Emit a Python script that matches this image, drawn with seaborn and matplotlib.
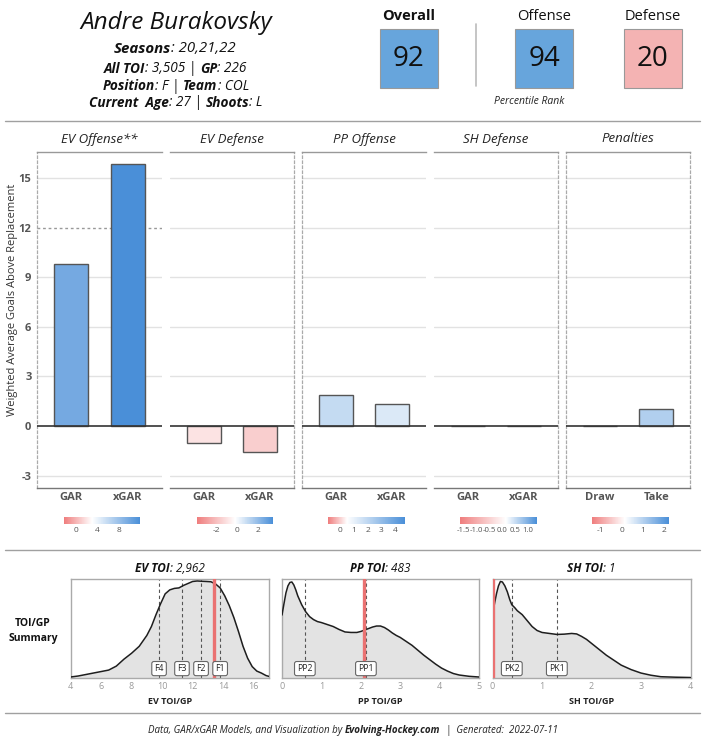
import matplotlib
matplotlib.use("Agg")
import matplotlib.pyplot as plt
from matplotlib.colors import LinearSegmentedColormap, Normalize
from matplotlib.colorbar import ColorbarBase
import seaborn as sns
import numpy as np

# ---------------- data ----------------
player = "Andre Burakovsky"
seasons = "20,21,22"
all_toi = "3,505"
gp = "226"
position = "F"
team = "COL"
age = "27"
shoots = "L"
pct_labels = ["Overall", "Offense", "Defense"]
pct_values = [92, 94, 20]

panel_titles = ["EV Offense**", "EV Defense", "PP Offense", "SH Defense", "Penalties"]
panel_cats = [["GAR", "xGAR"], ["GAR", "xGAR"], ["GAR", "xGAR"], ["GAR", "xGAR"], ["Draw", "Take"]]
panel_vals = [[9.8, 15.85], [-1.0, -1.6], [1.86, 1.33], [0.0, 0.0], [0.0, 1.05]]
# colour scale per panel: (min, white point, max) and tick values
scale_min = [-2.2, -3.9, -0.87, -1.62, -1.41]
scale_mid = [3.0, -0.2, 0.5, 0.15, 0.15]
scale_max = [11.9, 3.45, 4.7, 1.35, 2.24]
scale_ticks = [[0, 4, 8], [-2, 0, 2], [0, 1, 2, 3, 4],
               [-1.5, -1.0, -0.5, 0.0, 0.5, 1.0], [-1, 0, 1, 2]]
scale_ticklabels = [["0", "4", "8"], ["-2", "0", "2"], ["0", "1", "2", "3", "4"],
                    ["-1.5", "-1.0", "-0.5", "0.0", "0.5", "1.0"], ["-1", "0", "1", "2"]]
y_ticks = [-3, 0, 3, 6, 9, 12, 15]

ev_x = [4.0, 4.5, 5.0, 5.5, 6.0, 6.5, 7.0, 7.5, 8.0, 8.5, 9.0, 9.3, 9.6, 9.9, 10.2,
        10.5, 10.8, 11.1, 11.4, 11.7, 12.0, 12.3, 12.6, 12.9, 13.2, 13.5, 13.8, 14.1,
        14.4, 14.7, 15.0, 15.3, 15.6, 15.9, 16.2, 16.5, 16.8, 17.0]
ev_d = [0.01, 0.02, 0.035, 0.05, 0.065, 0.08, 0.12, 0.19, 0.25, 0.32, 0.43, 0.52,
        0.64, 0.75, 0.85, 0.89, 0.905, 0.91, 0.935, 0.955, 0.975, 0.98, 0.977, 0.975,
        0.972, 0.95, 0.91, 0.83, 0.73, 0.61, 0.47, 0.32, 0.2, 0.115, 0.07, 0.05, 0.025, 0.016]
pp_x = [0.0, 0.05, 0.1, 0.15, 0.2, 0.25, 0.3, 0.35, 0.4, 0.5, 0.6, 0.7, 0.8, 0.9, 1.0,
        1.15, 1.3, 1.45, 1.6, 1.75, 1.9, 2.0, 2.1, 2.2, 2.3, 2.4, 2.5, 2.6, 2.7, 2.8,
        2.9, 3.0, 3.15, 3.3, 3.45, 3.6, 3.75, 3.9, 4.05, 4.2, 4.35, 4.5, 4.75, 5.0]
pp_d = [0.636, 0.75, 0.86, 0.93, 0.965, 0.97, 0.94, 0.89, 0.83, 0.74, 0.67, 0.62,
        0.59, 0.57, 0.56, 0.54, 0.52, 0.49, 0.465, 0.46, 0.46, 0.47, 0.485, 0.5, 0.515,
        0.525, 0.525, 0.51, 0.485, 0.455, 0.43, 0.41, 0.37, 0.33, 0.28, 0.23, 0.185,
        0.14, 0.1, 0.07, 0.045, 0.03, 0.017, 0.01]
sh_x = [0.0, 0.04, 0.08, 0.12, 0.16, 0.2, 0.25, 0.3, 0.35, 0.39, 0.45, 0.5, 0.6, 0.7,
        0.8, 0.9, 1.0, 1.15, 1.3, 1.45, 1.6, 1.7, 1.8, 1.9, 2.0, 2.15, 2.3, 2.45, 2.6,
        2.8, 3.0, 3.2, 3.4, 3.7, 4.0]
sh_d = [0.636, 0.75, 0.85, 0.93, 0.975, 0.97, 0.93, 0.87, 0.79, 0.74, 0.71, 0.68,
        0.64, 0.58, 0.52, 0.48, 0.46, 0.45, 0.44, 0.443, 0.45, 0.445, 0.42, 0.39, 0.35,
        0.29, 0.23, 0.18, 0.13, 0.085, 0.05, 0.028, 0.013, 0.008, 0.005]

dens_titles = [("EV TOI", "2,962"), ("PP TOI", "483"), ("SH TOI", "1")]
dens_xlabels = ["EV TOI/GP", "PP TOI/GP", "SH TOI/GP"]
dens_xlims = [(4, 17), (0, 5), (0, 4)]
dens_xticks = [[4, 6, 8, 10, 12, 14, 16], [0, 1, 2, 3, 4, 5], [0, 1, 2, 3, 4]]
line_names = [["F4", "F3", "F2", "F1"], ["PP2", "PP1"], ["PK2", "PK1"]]
line_vals = [[9.8, 11.3, 12.55, 13.8], [0.58, 2.13], [0.39, 1.3]]
player_toi = [13.37, 2.08, 0.0]

# ---------------- setup ----------------
sns.set_theme(style="white")
plt.rcParams["font.family"] = ["Open Sans", "DejaVu Sans"]

W, H = 706, 750
fig = plt.figure(figsize=(W / 100, H / 100), dpi=100)
renderer = fig.canvas.get_renderer()


def fx(x):
    return x / W


def fy(y):
    return 1 - y / H


def rect(x0, y0, x1, y1):
    return [fx(x0), fy(y1), (x1 - x0) / W, (y1 - y0) / H]


def rich(x, y, segs, size, color="#111"):
    texts, widths = [], []
    for s, w, st in segs:
        kw = dict(fontsize=size, fontweight=w, fontstyle=st, color=color, va="center", ha="left")
        t = fig.text(0, 0, s, **kw)
        a = fig.text(0, 0, s + "l", **kw)
        b = fig.text(0, 0, "l", **kw)
        wd = a.get_window_extent(renderer).width - b.get_window_extent(renderer).width
        a.remove(); b.remove()
        texts.append(t); widths.append(wd)
    start = x - sum(widths) / 2
    for t, wd in zip(texts, widths):
        t.set_position((fx(start), fy(y)))
        start += wd


def hline(y, x0=5, x1=700, color="#a0a0a0", lw=1.0):
    fig.add_artist(plt.Line2D([fx(x0), fx(x1)], [fy(y), fy(y)], color=color, lw=lw))


# ---------------- header ----------------
fig.text(fx(176), fy(23), player, fontsize=17.5, fontstyle="italic", ha="center", va="center", color="#111")
rich(175, 49, [("Seasons", "bold", "italic"), (": " + seasons, "normal", "italic")], 10.8)
rich(175, 69, [("All TOI", "bold", "italic"), (": " + all_toi + " | ", "normal", "italic"),
               ("GP", "bold", "italic"), (": " + gp, "normal", "italic")], 9.8)
rich(176, 86, [("Position", "bold", "italic"), (": " + position + " | ", "normal", "italic"),
               ("Team", "bold", "italic"), (": " + team, "normal", "italic")], 9.8)
rich(176, 103, [("Current  Age", "bold", "italic"), (": " + age + " | ", "normal", "italic"),
                ("Shoots", "bold", "italic"), (": " + shoots, "normal", "italic")], 9.8)

box_x = [379.5, 515, 623.5]
box_colors = ["#67a5dc", "#67a5dc", "#f4b3b3"]
for i, (lab, val) in enumerate(zip(pct_labels, pct_values)):
    x0 = box_x[i]
    fig.text(fx(x0 + 29), fy(16), lab, fontsize=10.5, ha="center", va="center",
             fontweight="bold" if i == 0 else "normal", color="#111")
    fig.add_artist(plt.Rectangle((fx(x0), fy(87.5)), 58 / W, 58 / H, transform=fig.transFigure,
                                 facecolor=box_colors[i], edgecolor="#999999", lw=0.8))
    fig.text(fx(x0 + 29), fy(58.5), str(val), fontsize=20, ha="center", va="center", color="#111")
fig.add_artist(plt.Line2D([fx(476), fx(476)], [fy(24), fy(86)], color="#bbbbbb", lw=1.2))
fig.text(fx(529), fy(101), "Percentile Rank", fontsize=7.5, fontstyle="italic", ha="center", va="center", color="#222")

hline(120.5)
hline(549.5)
hline(712.5)

# ---------------- bar panels ----------------
panel_x = [(37, 162), (170, 294), (302, 426), (434, 558), (566, 690)]
cb_x = [(64, 140), (197, 273), (328, 405), (460, 537), (592, 669)]
dash_left = [True, False, True, False, True]
dash_right = [False, True, False, True, True]
RED, BLUE = "#ef7d7d", "#4a8fd8"

for i in range(5):
    x0, x1 = panel_x[i]
    ax = fig.add_axes(rect(x0, 152, x1, 488))
    f = (scale_mid[i] - scale_min[i]) / (scale_max[i] - scale_min[i])
    cmap = LinearSegmentedColormap.from_list("c%d" % i, [(0, RED), (f, "#ffffff"), (1, BLUE)])
    norm = Normalize(scale_min[i], scale_max[i])
    pal = {c: cmap(norm(v)) for c, v in zip(panel_cats[i], panel_vals[i])}
    for g in [15, 12, 9, 6, 3, -3]:
        if i == 0 and g == 12:
            ax.axhline(g, color="#999999", lw=1, ls=(0, (2, 2)), zorder=0)
        else:
            ax.axhline(g, color="#e2e2e2", lw=1, zorder=0)
    sns.barplot(x=panel_cats[i], y=panel_vals[i], hue=panel_cats[i], palette=pal, legend=False,
                ax=ax, width=0.6, edgecolor="#555555", linewidth=1.0, saturation=1, zorder=2)
    ax.axhline(0, color="#333333", lw=1.2, zorder=3)
    ax.set_xlim(-0.6, 1.6)
    ax.set_ylim(-3.75, 16.57)
    ax.set_facecolor("none")
    ax.grid(False)
    for s in ["top", "bottom", "left", "right"]:
        ax.spines[s].set_visible(True)
    ax.spines["top"].set_color("#999999")
    ax.spines["top"].set_linewidth(1)
    ax.spines["bottom"].set_color("#777777")
    ax.spines["bottom"].set_linewidth(1)
    for s, on in [("left", dash_left[i]), ("right", dash_right[i])]:
        if on:
            ax.spines[s].set_linestyle((0, (2, 2)))
            ax.spines[s].set_color("#aaaaaa")
            ax.spines[s].set_linewidth(0.9)
        else:
            ax.spines[s].set_visible(False)
    ax.tick_params(axis="x", length=0, pad=3)
    for lab in ax.get_xticklabels():
        lab.set_fontsize(8)
        lab.set_fontweight("bold")
        lab.set_color("#555555")
    ax.set_xlabel("")
    ax.set_ylabel("")
    if i == 0:
        ax.set_yticks(y_ticks)
        ax.set_yticklabels([str(t) for t in y_ticks], fontsize=8, fontweight="bold", color="#555555")
        ax.tick_params(axis="y", length=0, pad=4)
    else:
        ax.set_yticks([])
    fig.text(fx((x0 + x1) / 2), fy(139), panel_titles[i], fontsize=9.5, fontstyle="italic",
             ha="center", va="center", color="#222")
    # colour bar
    c0, c1 = cb_x[i]
    cax = fig.add_axes(rect(c0, 517, c1, 524))
    cb = ColorbarBase(cax, cmap=cmap, norm=norm, orientation="horizontal")
    cb.outline.set_visible(False)
    cb.set_ticks(scale_ticks[i])
    cb.set_ticklabels(scale_ticklabels[i])
    cax.tick_params(axis="x", length=2, width=0.6, colors="#ffffff", labelcolor="#555555",
                    labelsize=5.6 if i == 3 else 6, pad=2, direction="in")

fig.text(fx(13), fy(300), "Weighted Average Goals Above Replacement", rotation=90,
         fontsize=8, ha="center", va="center", color="#333")

# ---------------- density panels ----------------
dens_x = [(70.5, 269), (282, 479), (492.5, 690.5)]
dens_data = [(ev_x, ev_d), (pp_x, pp_d), (sh_x, sh_d)]
for j in range(3):
    x0, x1 = dens_x[j]
    ax = fig.add_axes(rect(x0, 579, x1, 678))
    xs, ds = dens_data[j]
    ax.fill_between(xs, ds, 0, color="#e3e3e3", lw=0, zorder=1)
    sns.lineplot(x=xs, y=ds, ax=ax, color="#1e1e1e", lw=1.1, zorder=3)
    for name, v in zip(line_names[j], line_vals[j]):
        ax.axvline(v, color="#555555", lw=0.8, ls=(0, (3, 2.5)), zorder=2)
        ax.text(v, 0.095, name, fontsize=6.2, ha="center", va="center", color="#222", zorder=5,
                bbox=dict(boxstyle="round,pad=0.3,rounding_size=0.25", fc="white", ec="#666666", lw=0.8))
    ax.axvline(player_toi[j], color="#ea7272", lw=2.4, zorder=4)
    ax.set_xlim(*dens_xlims[j])
    ax.set_ylim(0, 1)
    ax.set_yticks([])
    ax.set_xticks(dens_xticks[j])
    ax.set_xticklabels([str(t) for t in dens_xticks[j]])
    ax.tick_params(axis="x", length=0, labelsize=6.5, labelcolor="#999999", pad=3)
    ax.set_xlabel(dens_xlabels[j], fontsize=6.5, fontweight="bold", color="#222", labelpad=4)
    ax.set_ylabel("")
    ax.grid(False)
    for s in ax.spines.values():
        s.set_visible(True)
        s.set_color("#aaaaaa")
        s.set_linewidth(1)
    t1, t2 = dens_titles[j]
    rich((x0 + x1) / 2, 568, [(t1, "bold", "italic"), (": " + t2, "normal", "italic")], 8.5)

fig.text(fx(33), fy(631), "TOI/GP\nSummary", fontsize=7.5, fontweight="bold", ha="center",
         va="center", color="#111", linespacing=1.5)

# ---------------- footer ----------------
rich(353, 731, [("Data, GAR/xGAR Models, and Visualization by ", "normal", "italic"),
                ("Evolving-Hockey.com", "bold", "italic"),
                ("  |  Generated:  2022-07-11", "normal", "italic")], 7, color="#222")

fig.savefig("out.png", dpi=100)
